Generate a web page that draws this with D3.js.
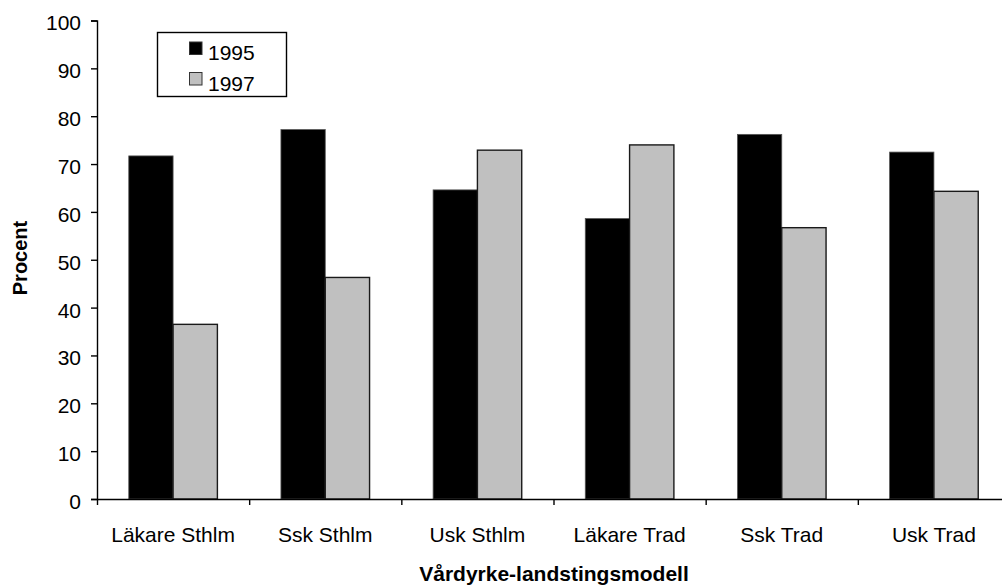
<!DOCTYPE html>
<html>
<head>
<meta charset="utf-8">
<script src="https://cdn.jsdelivr.net/npm/d3@7"></script>
<style>
  html, body { margin: 0; padding: 0; background: #fff; }
  svg { display: block; font-family: Arial, "Liberation Sans", sans-serif; }
</style>
</head>
<body>
<svg id="chart" width="1002" height="586"></svg>
<script>
// Andel (procent) per vårdyrke och landstingsmodell, 1995 och 1997
const categories = ["Läkare Sthlm", "Ssk Sthlm", "Usk Sthlm", "Läkare Trad", "Ssk Trad", "Usk Trad"];
const series = ["1995", "1997"];
const values1995 = [71.7, 77.2, 64.6, 58.6, 76.2, 72.5];
const values1997 = [36.5, 46.3, 72.9, 74.0, 56.7, 64.3];
const yTicks = [0, 10, 20, 30, 40, 50, 60, 70, 80, 90, 100];
const colors = { "1995": "#000000", "1997": "#c0c0c0" };

const svg = d3.select("#chart");

const plotLeft = 97, plotRight = 1010, plotTop = 20.5, plotBottom = 499;

const y = d3.scaleLinear().domain([0, 100]).range([plotBottom, plotTop]);
const x0 = d3.scaleBand().domain(categories).range([plotLeft, plotRight]).padding(0);
const x1 = d3.scaleBand().domain(series).range([0, x0.bandwidth()])
  .paddingInner(0).paddingOuter(0.717);

const rows = categories.map((c, i) => ({ cat: c, "1995": values1995[i], "1997": values1997[i] }));

// Bars
const groups = svg.append("g").selectAll("g").data(rows).join("g")
  .attr("transform", d => `translate(${x0(d.cat)},0)`);

groups.selectAll("rect")
  .data(d => series.map(s => ({ s, v: d[s] })))
  .join("rect")
  .attr("x", d => x1(d.s))
  .attr("y", d => y(d.v))
  .attr("width", x1.bandwidth())
  .attr("height", d => y(0) - y(d.v))
  .attr("fill", d => colors[d.s])
  .attr("stroke", d => d.s === "1997" ? "#1a1a1a" : "#555")
  .attr("stroke-width", d => d.s === "1997" ? 1.4 : 0.8);

// Y axis
const yAxis = d3.axisLeft(y).tickValues(yTicks).tickSize(6).tickPadding(10);
const gy = svg.append("g").attr("transform", `translate(${plotLeft},0)`).call(yAxis);
gy.select(".domain").attr("stroke", "#000").attr("stroke-width", 1.4);
gy.selectAll(".tick line").attr("stroke", "#000").attr("stroke-width", 1.4);
gy.selectAll(".tick text")
  .attr("font-size", 21)
  .attr("font-family", "Arial, 'Liberation Sans', sans-serif")
  .attr("fill", "#000")
  .attr("dy", "0.45em");

// X axis: baseline with ticks at category boundaries
const boundaries = categories.map(c => x0(c)).concat([plotRight]);
const xTickScale = d3.scaleLinear().domain([plotLeft, plotRight]).range([plotLeft, plotRight]);
const xAxis = d3.axisBottom(xTickScale).tickValues(boundaries).tickSize(6).tickFormat("").tickSizeOuter(0);
const gx = svg.append("g").attr("transform", `translate(0,${plotBottom})`).call(xAxis);
gx.select(".domain").attr("stroke", "#000").attr("stroke-width", 1.4);
gx.selectAll(".tick line").attr("stroke", "#000").attr("stroke-width", 1.4);

// Category labels
svg.append("g").selectAll("text").data(categories).join("text")
  .attr("x", d => x0(d) + x0.bandwidth() / 2)
  .attr("y", 542)
  .attr("text-anchor", "middle")
  .attr("font-size", 21)
  .attr("fill", "#000")
  .text(d => d);

// Axis titles
svg.append("text")
  .attr("x", 554).attr("y", 581)
  .attr("text-anchor", "middle")
  .attr("font-size", 21).attr("font-weight", "bold")
  .text("Vårdyrke-landstingsmodell");

svg.append("text")
  .attr("transform", "translate(27,258) rotate(-90)")
  .attr("text-anchor", "middle")
  .attr("font-size", 20).attr("font-weight", "bold")
  .text("Procent");

// Legend
const legend = svg.append("g");
legend.append("rect")
  .attr("x", 157.5).attr("y", 32.5).attr("width", 129).attr("height", 64)
  .attr("fill", "#fff").attr("stroke", "#000").attr("stroke-width", 1.4);
const items = legend.selectAll("g.item").data(series).join("g")
  .attr("class", "item")
  .attr("transform", (d, i) => `translate(189.5,${42 + i * 30.5})`);
items.append("rect")
  .attr("width", 12.5).attr("height", 12.5)
  .attr("fill", d => colors[d])
  .attr("stroke", "#333").attr("stroke-width", 1);
items.append("text")
  .attr("x", 18.5).attr("y", 18)
  .attr("font-size", 21)
  .text(d => d);
</script>
</body>
</html>
